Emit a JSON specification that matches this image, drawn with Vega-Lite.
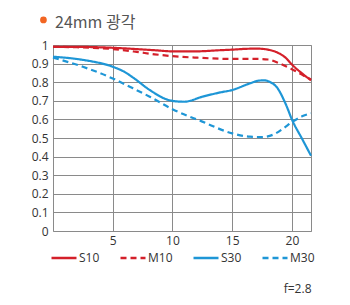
{
  "$schema": "https://vega.github.io/schema/vega-lite/v6.json",
  "width": 258,
  "height": 186,
  "autosize": {"type": "none"},
  "padding": {"left": 53, "top": 45, "right": 39, "bottom": 74},
  "background": "white",
  "title": {"text": "24mm 광각", "anchor": "start", "frame": "group", "offset": -14, "dx": 2, "fontSize": 16, "fontWeight": "normal", "color": "#555555", "font": "Noto Sans CJK KR"},
  "config": {
    "view": {"stroke": "#8a8a8a", "strokeWidth": 1},
    "axis": {"gridColor": "#8a8a8a", "gridOpacity": 1, "gridWidth": 1, "ticks": false, "domain": false, "labelFont": "Open Sans", "labelFontSize": 12, "labelColor": "#333333"},
    "legend": {"labelFont": "Open Sans", "labelFontSize": 12, "labelColor": "#333333"}
  },
  "data": {"values": [
    {"x": 0, "y": 0.99, "series": "S10"}, {"x": 2, "y": 0.99, "series": "S10"}, {"x": 5, "y": 0.985, "series": "S10"}, {"x": 7, "y": 0.978, "series": "S10"}, {"x": 8.5, "y": 0.972, "series": "S10"}, {"x": 10, "y": 0.966, "series": "S10"}, {"x": 12, "y": 0.966, "series": "S10"}, {"x": 14, "y": 0.972, "series": "S10"}, {"x": 15, "y": 0.975, "series": "S10"}, {"x": 16.5, "y": 0.98, "series": "S10"}, {"x": 17.3, "y": 0.98, "series": "S10"}, {"x": 18, "y": 0.975, "series": "S10"}, {"x": 18.7, "y": 0.962, "series": "S10"}, {"x": 19.5, "y": 0.93, "series": "S10"}, {"x": 20, "y": 0.895, "series": "S10"}, {"x": 21, "y": 0.84, "series": "S10"}, {"x": 21.6, "y": 0.81, "series": "S10"},
    {"x": 0, "y": 0.99, "series": "M10"}, {"x": 2, "y": 0.988, "series": "M10"}, {"x": 5, "y": 0.978, "series": "M10"}, {"x": 7, "y": 0.963, "series": "M10"}, {"x": 8.5, "y": 0.95, "series": "M10"}, {"x": 10, "y": 0.94, "series": "M10"}, {"x": 12, "y": 0.932, "series": "M10"}, {"x": 15, "y": 0.925, "series": "M10"}, {"x": 17, "y": 0.925, "series": "M10"}, {"x": 18, "y": 0.922, "series": "M10"}, {"x": 19, "y": 0.9, "series": "M10"}, {"x": 20, "y": 0.87, "series": "M10"}, {"x": 21, "y": 0.835, "series": "M10"}, {"x": 21.6, "y": 0.815, "series": "M10"},
    {"x": 0, "y": 0.937, "series": "S30"}, {"x": 2.5, "y": 0.92, "series": "S30"}, {"x": 5, "y": 0.883, "series": "S30"}, {"x": 6, "y": 0.855, "series": "S30"}, {"x": 6.7, "y": 0.825, "series": "S30"}, {"x": 8.1, "y": 0.758, "series": "S30"}, {"x": 9.5, "y": 0.708, "series": "S30"}, {"x": 10.3, "y": 0.697, "series": "S30"}, {"x": 11, "y": 0.695, "series": "S30"}, {"x": 12.5, "y": 0.722, "series": "S30"}, {"x": 14, "y": 0.745, "series": "S30"}, {"x": 15, "y": 0.758, "series": "S30"}, {"x": 16.5, "y": 0.794, "series": "S30"}, {"x": 17.2, "y": 0.808, "series": "S30"}, {"x": 17.7, "y": 0.81, "series": "S30"}, {"x": 18.2, "y": 0.8, "series": "S30"}, {"x": 18.7, "y": 0.776, "series": "S30"}, {"x": 19.5, "y": 0.68, "series": "S30"}, {"x": 20, "y": 0.6, "series": "S30"}, {"x": 20.9, "y": 0.49, "series": "S30"}, {"x": 21.6, "y": 0.405, "series": "S30"},
    {"x": 0, "y": 0.932, "series": "M30"}, {"x": 2.5, "y": 0.883, "series": "M30"}, {"x": 5, "y": 0.82, "series": "M30"}, {"x": 6.7, "y": 0.767, "series": "M30"}, {"x": 8.1, "y": 0.722, "series": "M30"}, {"x": 10, "y": 0.655, "series": "M30"}, {"x": 12.5, "y": 0.588, "series": "M30"}, {"x": 15, "y": 0.525, "series": "M30"}, {"x": 16.5, "y": 0.507, "series": "M30"}, {"x": 17.5, "y": 0.505, "series": "M30"}, {"x": 18.5, "y": 0.52, "series": "M30"}, {"x": 19.3, "y": 0.552, "series": "M30"}, {"x": 20, "y": 0.585, "series": "M30"}, {"x": 20.9, "y": 0.618, "series": "M30"}, {"x": 21.6, "y": 0.633, "series": "M30"}
  ]},
  "encoding": {
    "x": {"field": "x", "type": "quantitative", "scale": {"domain": [0, 21.6], "nice": false, "zero": false},
          "axis": {"values": [5, 10, 15, 20], "title": "f=2.8", "titleAnchor": "end", "titleAlign": "right", "titleX": 258, "titleY": 57, "titleBaseline": "middle", "titleFont": "Open Sans", "titleFontSize": 12, "titleFontWeight": "normal", "titleColor": "#333333", "labelPadding": 4}},
    "y": {"field": "y", "type": "quantitative", "scale": {"domain": [0, 1], "nice": false},
          "axis": {"values": [0, 0.1, 0.2, 0.3, 0.4, 0.5, 0.6, 0.7, 0.8, 0.9, 1], "format": "~g", "title": null, "labelPadding": 5}}
  },
  "layer": [
    {
      "mark": {"type": "line", "strokeWidth": 2.2, "interpolate": "monotone"},
      "encoding": {
        "color": {"field": "series", "type": "nominal", "scale": {"domain": ["S10", "M10", "S30", "M30"], "range": ["#d4202a", "#d4202a", "#1e96d6", "#1e96d6"]},
                  "legend": {"title": null, "orient": "none", "direction": "horizontal", "legendX": -3, "legendY": 199, "symbolType": "stroke", "symbolSize": 625, "symbolStrokeWidth": 2.5, "labelOffset": 1, "columnPadding": 15}},
        "strokeDash": {"field": "series", "type": "nominal", "scale": {"domain": ["S10", "M10", "S30", "M30"], "range": [[1, 0], [6, 4], [1, 0], [6, 4]]},
                  "legend": {"title": null, "orient": "none", "direction": "horizontal", "legendX": -3, "legendY": 199, "symbolType": "stroke", "symbolSize": 625, "symbolStrokeWidth": 2.5, "labelOffset": 1, "columnPadding": 15}}
      }
    },
    {
      "data": {"values": [{"x": -0.8, "y": 1.135}]},
      "mark": {"type": "point", "filled": true, "color": "#f26522", "size": 45, "opacity": 1}
    }
  ]
}
